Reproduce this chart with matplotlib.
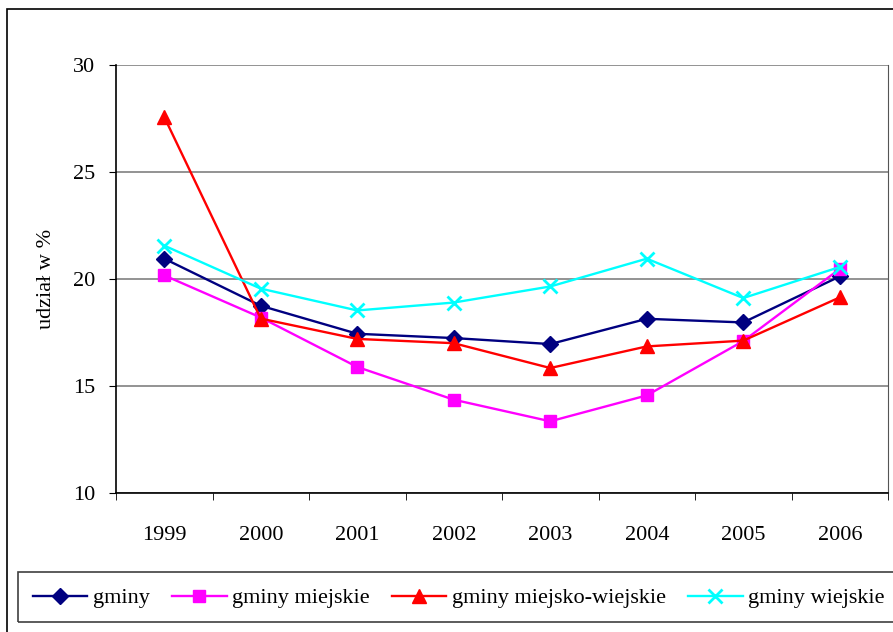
import matplotlib
matplotlib.use("Agg")
import matplotlib.pyplot as plt
from matplotlib.patches import Rectangle

years = ["1999", "2000", "2001", "2002", "2003", "2004", "2005", "2006"]
gminy = [20.95, 18.75, 17.44, 17.24, 16.96, 18.14, 17.97, 20.12]
gminy_miejskie = [20.17, 18.2, 15.89, 14.36, 13.35, 14.56, 17.1, 20.47]
gminy_miejsko_wiejskie = [27.57, 18.15, 17.2, 17.0, 15.84, 16.85, 17.12, 19.14]
gminy_wiejskie = [21.56, 19.55, 18.53, 18.9, 19.65, 20.95, 19.11, 20.56]
series_names = ["gminy", "gminy miejskie", "gminy miejsko-wiejskie", "gminy wiejskie"]
y_ticks = [10, 15, 20, 25, 30]

plt.rcParams['font.family'] = ['Liberation Serif', 'DejaVu Serif']
FS = 16

W, H = 893, 632
fig = plt.figure(figsize=(W / 100, H / 100), dpi=100)

def fx(px):
    return px / W

def fy(py):
    return 1 - py / H

# outer chart border
fig.patches.append(Rectangle((fx(7), fy(700)), fx(1000), fy(9) - fy(700),
                             transform=fig.transFigure, fill=False,
                             edgecolor='black', linewidth=1.2))

ax = fig.add_axes([fx(116), fy(493), fx(888 - 116), fy(65) - fy(493)])

x = list(range(len(years)))
styles = [
    (gminy, '#000080', 'D', 8, 1),
    (gminy_miejskie, '#FF00FF', 's', 8.5, 1),
    (gminy_miejsko_wiejskie, '#FF0000', '^', 9.5, 1),
    (gminy_wiejskie, '#00FFFF', 'x', 10, 2),
]
handles = []
for (vals, col, mk, ms, mew), name in zip(styles, series_names):
    h, = ax.plot(x, vals, color=col, marker=mk, markersize=ms,
                 markeredgewidth=mew, markerfacecolor=col, markeredgecolor=col,
                 linewidth=1.7, label=name, clip_on=False)
    handles.append(h)

ax.set_xlim(-0.5, 7.5)
ax.set_ylim(10, 30)
ax.set_yticks(y_ticks)
ax.set_yticklabels([str(t) for t in y_ticks], fontsize=FS)
ax.set_xticks(x)
ax.set_xticklabels(years, fontsize=FS)
ax.set_xticks([i - 0.5 for i in range(len(years) + 1)], minor=True)
ax.tick_params(axis='x', which='major', length=0, pad=24)
ax.tick_params(axis='x', which='minor', length=5, direction='out', color='black')
ax.tick_params(axis='y', which='major', length=5, direction='out', pad=10)

ax.yaxis.grid(True, color='#808080', linewidth=1.2)
ax.set_axisbelow(True)
ax.spines['top'].set_visible(False)
ax.spines['right'].set_color('#555555')
ax.spines['left'].set_linewidth(1.2)
ax.spines['bottom'].set_linewidth(1.2)

ax.set_ylabel("udział w %", fontsize=FS, labelpad=12)

# legend box
fig.patches.append(Rectangle((fx(18), fy(622)), fx(1000), fy(572) - fy(622),
                             transform=fig.transFigure, fill=False,
                             edgecolor='#404040', linewidth=1.2))
fig.legend(handles=handles, loc='center left', bbox_to_anchor=(fx(33), fy(598)),
           ncol=4, frameon=False, fontsize=FS, handlelength=2.45,
           handletextpad=0.25, columnspacing=1.0, borderpad=0, borderaxespad=0)

fig.savefig("out.png", dpi=100)
